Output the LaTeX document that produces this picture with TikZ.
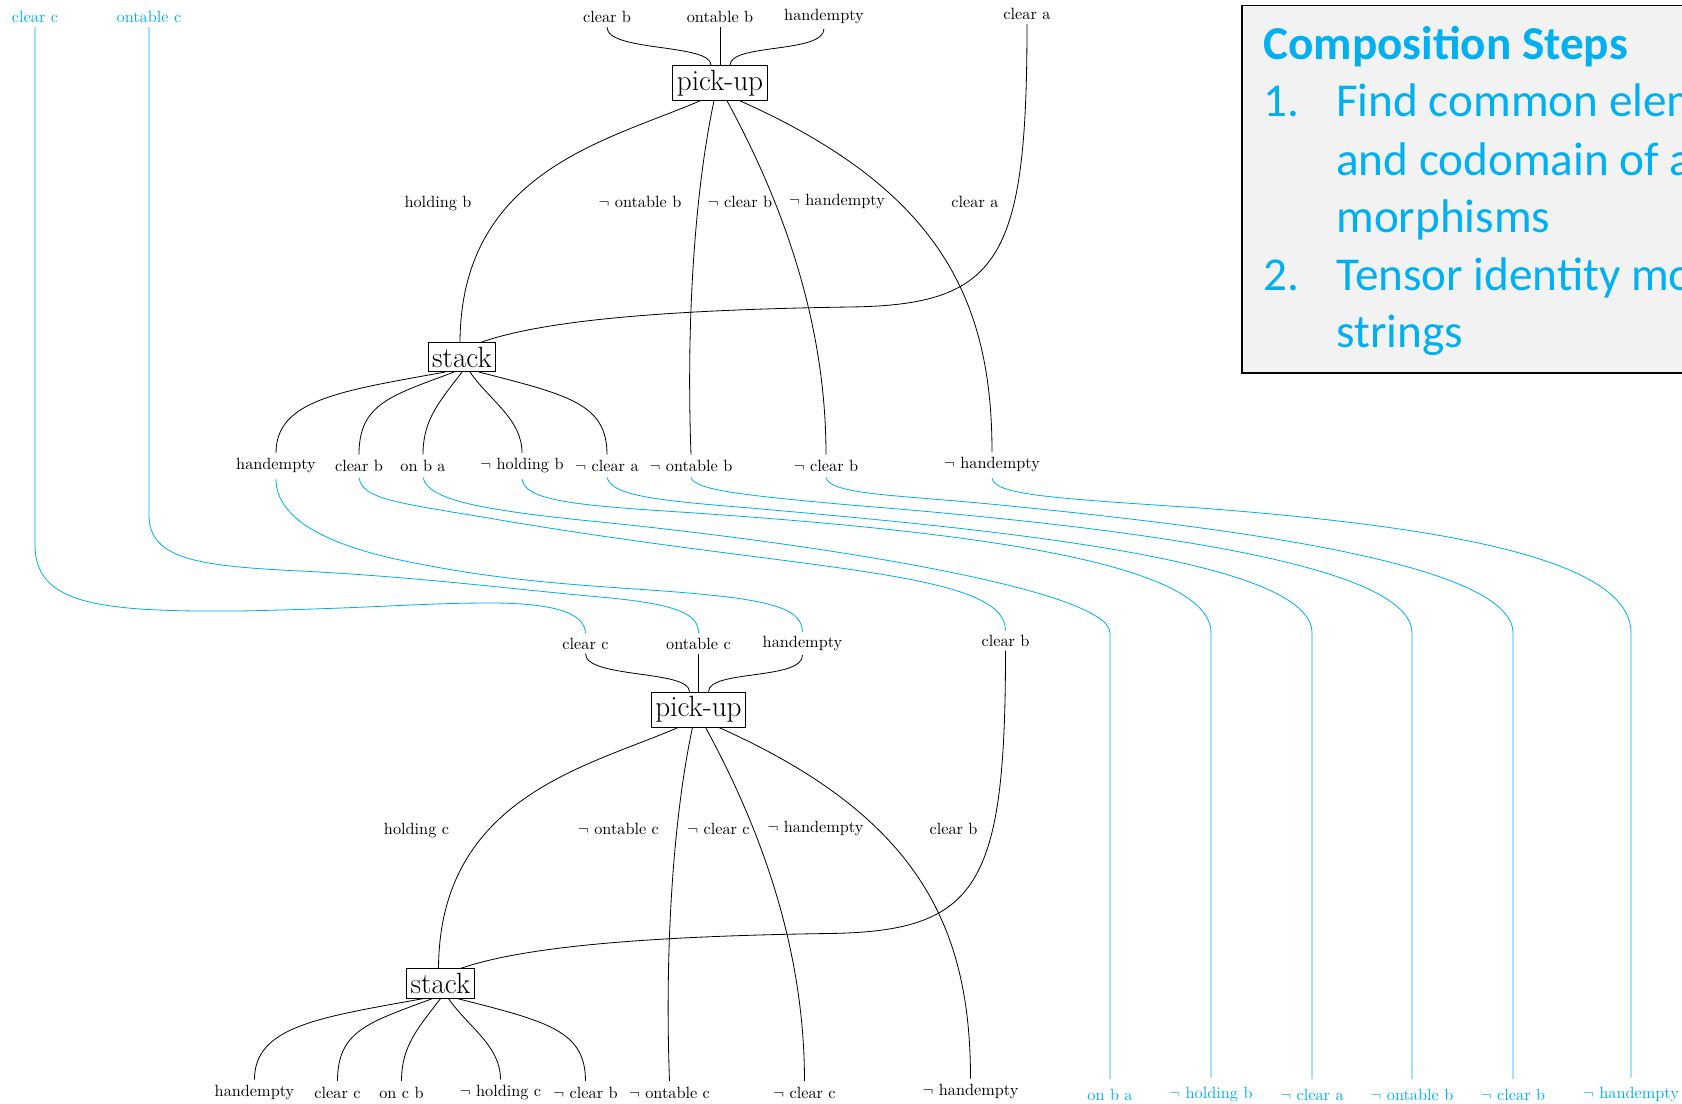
\documentclass[tikz,border=0pt]{standalone}
\usepackage{fontspec}
\newfontfamily\stepsfont{Carlito}
\usepackage{tikz}
\usetikzlibrary{calc}

\definecolor{idblue}{RGB}{0,174,239}
\definecolor{stepsblue}{RGB}{0,176,240}
\definecolor{stepsgray}{RGB}{242,242,242}

% pick-up #3, then stack #3 on #4; #1 shift, #2 name prefix
\newcommand{\pickstack}[4]{%
\begin{scope}[shift={#1}, name prefix=#2]
  % domain
  \node[inlabel] (iclr) at (607,17) {clear #3};
  \node[inlabel] (iont) at (720,17) {ontable #3};
  \node[inlabel] (ihe) at (824,17) {handempty};
  \node[inlabel] (iclr2) at (1027,14) {clear #4};
  % boxes
  \node[morph] (pickup) at (720,83) {pick-up};
  \node[morph] (stack) at (462,357) {stack};
  % labels on the middle strings
  \node[midlabel] (lhold) at (438,204) {holding #3};
  \node[midlabel] (lont) at (640,202) {$\neg$ ontable #3};
  \node[midlabel] (lclr) at (740,202) {$\neg$ clear #3};
  \node[midlabel] (lhe) at (837,202) {$\neg$ handempty};
  \node[midlabel] (lclr2) at (975,202) {clear #4};
  % codomain
  \node[outlabel] (ohe) at (276,466) {handempty};
  \node[outlabel] (oclr) at (359,466) {clear #3};
  \node[outlabel] (oon) at (423,466) {on #3 #4};
  \node[outlabel] (ohold) at (522,466) {$\neg$ holding #3};
  \node[outlabel] (oclr2) at (607,466) {$\neg$ clear #4};
  \node[outlabel] (oont) at (691,466) {$\neg$ ontable #3};
  \node[outlabel] (oclr3) at (826,466) {$\neg$ clear #3};
  \node[outlabel] (ohe2) at (992,465) {$\neg$ handempty};
  % strings
  \draw[wire] (iclr.south) .. controls +(0,25) and +(0,-22) .. ($(pickup.north)+(-9,0)$);
  \draw[wire] (iont) -- (pickup);
  \draw[wire] (ihe.south) .. controls +(0,25) and +(0,-22) .. ($(pickup.north)+(10,0)$);
  \draw[wire] ($(pickup.south)+(-20,0)$) .. controls (610,140) and (461,170) .. ($(stack.north)+(-2,0)$);
  \draw[wire] ($(pickup.south)+(-6,0)$) .. controls (695,190) and (686,320) .. (oont.north);
  \draw[wire] ($(pickup.south)+(7,0)$) .. controls (787,211) and (826,329) .. (oclr3.north);
  \draw[wire] ($(pickup.south)+(20,0)$) .. controls (940,190) and (992,300) .. (ohe2.north);
  \draw[wire] (iclr2.south) .. controls (1027,260) and (1000,305) .. (850,307)
    .. controls (650,310) and (540,322) .. ($(stack.north)+(20,0)$);
  \draw[wire] ($(stack.south)+(-17,0)$) .. controls (340,391) and (276,400) .. (ohe.north);
  \draw[wire] ($(stack.south)+(-8,0)$) .. controls (390,396) and (359,404) .. (oclr.north);
  \draw[wire] (stack.south) .. controls (440,401) and (423,419) .. (oon.north);
  \draw[wire] ($(stack.south)+(8,0)$) .. controls (490,401) and (522,419) .. (ohold.north);
  \draw[wire] ($(stack.south)+(17,0)$) .. controls (569,395) and (607,404) .. (oclr2.north);
\end{scope}}

\begin{document}
\begin{tikzpicture}[
    x=0.0216cm, y=-0.0216cm,
    inlabel/.style={inner xsep=1pt, inner ysep=2.5pt},
    outlabel/.style={inner xsep=1pt, inner ysep=3.3pt},
    midlabel/.style={inner sep=1pt},
    idlabel/.style={inner xsep=1pt, inner ysep=6pt, text=idblue},
    morph/.style={draw, line width=0.5pt, inner xsep=2.5pt, inner ysep=2.7pt, font=\fontsize{18}{21}\selectfont},
    wire/.style={line width=0.5pt},
    idwire/.style={draw=idblue, line width=0.5pt},
    steps/.style={anchor=base west, inner sep=0pt, text=stepsblue,
      font=\stepsfont\fontsize{29}{35}\selectfont}
]
  \useasboundingbox (0,0) rectangle (1682,1104);
  \clip (0,0) rectangle (1682,1104);

  \pickstack{(0,0)}{t-}{b}{a}
  \pickstack{(-21.5,626.5)}{b-}{c}{b}

  % identity strings
  \node[inlabel, text=idblue] (cc) at (35,17) {clear c};
  \node[inlabel, text=idblue] (oc) at (149,17) {ontable c};
  \node[idlabel] (r1) at (1110,1095) {on b a};
  \node[idlabel] (r2) at (1211,1095) {$\neg$ holding b};
  \node[idlabel] (r3) at (1312,1095) {$\neg$ clear a};
  \node[idlabel] (r4) at (1412,1095) {$\neg$ ontable b};
  \node[idlabel] (r5) at (1513,1095) {$\neg$ clear b};
  \node[idlabel] (r6) at (1631,1095) {$\neg$ handempty};

  \draw[idwire] (cc.south) -- (35,545) .. controls (35,605) and (100,612) .. (240,611)
    .. controls (380,608) and (420,603) .. (490,603) .. controls (560,603) and (585,615) .. (b-iclr.north);
  \draw[idwire] (oc.south) -- (149,515) .. controls (149,560) and (200,566) .. (300,571)
    .. controls (420,577) and (520,590) .. (600,597) .. controls (680,604) and (699,615) .. (b-iont.north);
  \draw[idwire] (t-ohe.south) .. controls (276,520) and (330,545) .. (400,560)
    .. controls (490,579) and (560,584) .. (650,590) .. controls (760,598) and (802,605) .. (b-ihe.north);
  \draw[idwire] (t-oclr.south) .. controls (362,500) and (400,503) .. (500,520)
    .. controls (800,571) and (1005,570) .. (b-iclr2.north);
  \draw[idwire] (t-oon.south) .. controls (428,500) and (480,510) .. (600,522)
    .. controls (820,544) and (1110,590) .. (1110,633) -- (r1.north);
  \draw[idwire] (t-ohold.south) .. controls (525,500) and (570,505) .. (680,512)
    .. controls (950,530) and (1211,560) .. (1211,633) -- (r2.north);
  \draw[idwire] (t-oclr2.south) .. controls (612,495) and (650,500) .. (750,508)
    .. controls (1000,530) and (1312,560) .. (1312,633) -- (r3.north);
  \draw[idwire] (t-oont.south) .. controls (695,490) and (740,495) .. (850,505)
    .. controls (1100,525) and (1412,560) .. (1412,633) -- (r4.north);
  \draw[idwire] (t-oclr3.south) .. controls (830,495) and (900,495) .. (1000,505)
    .. controls (1200,525) and (1513,560) .. (1513,633) -- (r5.north);
  \draw[idwire] (t-ohe2.south) .. controls (995,495) and (1050,498) .. (1200,508)
    .. controls (1450,527) and (1631,560) .. (1631,633) -- (r6.north);

  % composition steps
  \draw[line width=1pt, fill=stepsgray] (1242,5.5) rectangle (1720,373);
  \node[steps, font=\stepsfont\bfseries\fontsize{29}{35}\selectfont] (head) at (1263,60) {Composition Steps};
  \node[steps] (num1) at (1263,117) {1.};
  \node[steps] (item1a) at (1336,117) {Find common elements};
  \node[steps] (item1b) at (1336,175) {and codomain of all};
  \node[steps] (item1c) at (1336,232) {morphisms};
  \node[steps] (num2) at (1263,290) {2.};
  \node[steps] (item2a) at (1336,290) {Tensor identity morphisms};
  \node[steps] (item2b) at (1336,347) {strings};
\end{tikzpicture}
\end{document}
